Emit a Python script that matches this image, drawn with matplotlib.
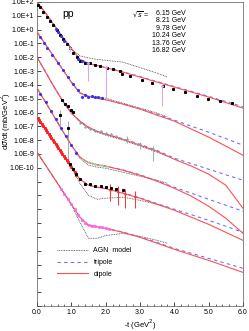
import numpy as np
import matplotlib
matplotlib.use("Agg")
import matplotlib.pyplot as plt
from matplotlib.ticker import FixedLocator, FuncFormatter, MultipleLocator

plt.rcParams['font.family'] = ['Liberation Sans', 'DejaVu Sans']

# ---------------- data (log10 of dsigma/dt, already offset per energy) --------
energies = ["6.15 GeV", "8.21 GeV", "9.78 GeV", "10.24 GeV", "13.76 GeV", "16.82 GeV"]

t_model = [0, 0.25, 0.5, 0.75, 1.0, 1.25, 1.5, 1.75, 2.0, 2.5, 3.0, 3.5, 4.0, 4.5, 5.0, 5.5, 6.0]
t_agn = [0, 0.25, 0.5, 0.75, 1.0, 1.25, 1.5, 1.75, 2.0, 2.5, 3.0, 3.5, 3.8]

dip_A = [2.0, 1.2, 0.33, -0.54, -1.37, -2.15, -2.45, -2.6, -2.75, -3.07, -3.43, -3.8, -4.16, -4.52, -4.88, -5.28, -5.68]
dip_B = [-0.17, -1.08, -1.99, -2.89, -3.80, -4.59, -4.85, -4.96, -5.07, -5.39, -5.75, -6.19, -6.62, -7.2, -7.78, -8.43, -9.09]
dip_C = [-1.99, -3.07, -4.16, -5.17, -6.04, -6.62, -7.06, -7.35, -7.57, -7.93, -8.36, -8.80, -9.38, -9.88, -10.46, -11.26, -12.93]
dip_D = [-4.23, -5.25, -6.30, -7.35, -8.36, -9.23, -9.63, -9.78, -9.88, -10.17, -10.54, -10.97, -11.48, -12.06, -12.78, -13.65, -14.74]
dip_E = [-6.33, -7.24, -8.14, -9.05, -9.96, -10.83, -11.26, -11.41, -11.51, -11.84, -12.2, -12.64, -13.07, -13.58, -14.09, -14.67, -15.25]
dip_F = [-8.87, -9.81, -10.75, -11.70, -12.64, -13.58, -14.16, -14.27, -14.38, -14.67, -15.03, -15.46, -15.9, -16.3, -16.7, -17.13, -17.57]

tri_A = [2.0, 1.2, 0.33, -0.54, -1.37, -2.15, -2.44, -2.58, -2.73, -3.05, -3.4, -3.76, -4.12, -4.47, -4.83, -5.2, -5.58]
tri_B = [-0.17, -1.08, -1.99, -2.89, -3.80, -4.59, -4.85, -4.96, -5.07, -5.37, -5.72, -6.12, -6.55, -6.99, -7.42, -7.89, -8.36]
tri_C = [-1.99, -3.07, -4.16, -5.17, -6.04, -6.62, -7.06, -7.35, -7.55, -7.9, -8.3, -8.75, -9.30, -9.70, -10.1, -10.5, -10.9]
tri_D = [-4.23, -5.25, -6.30, -7.35, -8.36, -9.23, -9.63, -9.78, -9.88, -10.15, -10.5, -10.95, -11.41, -11.84, -12.28, -12.71, -13.14]
tri_E = [-6.33, -7.24, -8.14, -9.05, -9.96, -10.83, -11.26, -11.41, -11.5, -11.82, -12.17, -12.6, -13.0, -13.4, -13.8, -14.23, -14.67]
tri_F = [-8.87, -9.81, -10.75, -11.70, -12.64, -13.58, -14.16, -14.27, -14.37, -14.65, -15.0, -15.4, -15.83, -16.19, -16.55, -16.91, -17.28]

agn_A = [2.0, 1.2, 0.33, -0.54, -1.37, -1.9, -2.05, -2.15, -2.22, -2.35, -2.75, -3.15, -3.43]
agn_B = [-0.17, -1.08, -1.99, -2.89, -3.80, -4.55, -4.8, -4.88, -4.96, -5.32, -5.68, -6.04, -6.33]
agn_C = [-1.99, -3.07, -4.16, -5.17, -6.04, -6.68, -7.13, -7.42, -7.64, -8.0, -8.43, -8.87, -9.16]
agn_D = [-4.23, -5.25, -6.30, -7.35, -8.36, -9.3, -9.81, -9.95, -10.03, -10.32, -10.61, -10.9, -11.12]
agn_E = [-6.33, -7.24, -8.14, -9.05, -9.96, -11.12, -11.99, -12.28, -12.2, -12.13, -12.35, -12.64, -12.86]
agn_F = [-8.87, -9.81, -10.75, -11.70, -12.64, -13.95, -15.1, -15.1, -14.9, -14.75, -14.96, -15.25, -15.46]

# measured points (t, log10 value)
blk_A_t = [0.03, 0.09, 0.17, 0.29, 0.38, 0.47, 0.58, 0.67, 0.76, 0.87, 0.96, 1.05, 1.16, 1.25, 1.40, 1.54, 1.69, 1.83, 2.03, 2.21, 2.41,
           2.47, 2.70, 3.05, 3.34, 3.66, 3.95, 4.30, 4.65, 4.97, 5.32, 5.67]
blk_A_v = [1.78, 1.64, 1.28, 0.91, 0.62, 0.33, -0.03, -0.39, -0.68, -1.04, -1.33, -1.70, -1.99, -2.28, -2.42, -2.42, -2.57, -2.64, -2.78, -2.86, -3.0,
           -3.22, -3.36, -3.65, -3.87, -4.09, -4.30, -4.52, -4.81, -5.03, -5.17, -5.32]
blu_A_t = [0.55, 0.62, 0.7, 0.8, 1.2, 1.3, 1.45]
blu_A_v = [0.05, -0.2, -0.45, -0.8, -2.1, -2.3, -2.45]
pnk_A_t = [0.96, 1.49, 2.01, 3.63]
pnk_A_v = [-1.3, -2.45, -2.68, -4.05]
pnk_A_lo = [-1.55, -3.75, -5.1, -5.55]

blu_B_t = [0.1, 0.2, 0.3, 0.45, 0.6, 0.75, 0.9, 1.05, 1.2, 1.31, 1.4, 1.48, 1.6, 1.69, 1.77, 1.89]
blu_B_v = [-0.55, -0.95, -1.3, -1.8, -2.4, -2.9, -3.45, -3.95, -4.4, -4.88, -4.74, -4.88, -4.81, -4.88, -4.88, -4.95]

blk_C_t = [0.73, 0.81, 0.90, 0.99, 1.05]
blk_C_v = [-5.1, -5.35, -5.55, -5.85, -5.95]
gry_C_t = [0.67, 0.9]
gry_C_v = [-6.2, -7.1]
gry_C_lo = [-7.1, -9.6]
gry_C_hi = [-5.8, -6.6]
cyn_C_t = [1.25, 1.4, 1.55, 1.7, 1.85, 2.0, 2.15, 2.3, 2.62, 3.0, 3.38]
cyn_C_v = [-6.75, -7.05, -7.2, -7.3, -7.35, -7.45, -7.55, -7.7, -7.95, -8.3, -8.65]
cyn_C_lo = [-6.75, -7.05, -7.2, -7.3, -7.35, -7.45, -7.55, -7.7, -8.2, -8.65, -9.5]
cyn_C_hi = [-6.75, -7.05, -7.2, -7.3, -7.35, -7.45, -7.55, -7.7, -7.7, -8.1, -8.4]

blu_D_t = [0.1, 0.25, 0.4, 0.55, 0.7, 0.85, 1.0, 1.15]
blu_D_v = [-4.65, -5.25, -5.9, -6.5, -7.1, -7.7, -8.36, -8.95]
grn_D_t = [1.3, 1.4, 1.5, 1.6, 1.7, 1.8, 1.9, 2.0]
grn_D_v = [-9.35, -9.5, -9.6, -9.65, -9.72, -9.78, -9.82, -9.88]

red_E_t = [0.02, 0.06, 0.1, 0.14, 0.18, 0.22, 0.26, 0.3, 0.34, 0.38, 0.42, 0.46, 0.5, 0.54, 0.58, 0.62, 0.66, 0.7, 0.74,
           0.78, 0.82, 0.86, 0.9, 0.95, 1.0, 1.05, 1.1, 1.15]
red_E_v = [-6.4, -6.55, -6.7, -6.85, -6.98, -7.12, -7.27, -7.41, -7.56, -7.7, -7.85, -7.99, -8.14, -8.28, -8.43, -8.57, -8.7, -8.86, -9.0,
           -9.15, -9.28, -9.42, -9.58, -9.78, -9.96, -10.12, -10.3, -10.5]
blk_E_t = [0.95, 1.05, 1.15, 1.25, 1.4, 1.55, 1.7, 1.85, 2.0, 2.15, 2.3, 2.5]
blk_E_v = [-9.75, -10.1, -10.45, -10.8, -11.15, -11.2, -11.3, -11.35, -11.4, -11.45, -11.5, -11.6]
rer_E_t = [2.13, 2.35, 2.56, 2.85]
rer_E_v = [-11.6, -11.75, -11.9, -12.1]
rer_E_lo = [-12.4, -12.7, -12.9, -12.9]
rer_E_hi = [-11.2, -11.3, -11.5, -11.7]

mag_F_t = [0.7, 0.8, 0.9, 1.0, 1.1, 1.2, 1.3, 1.4, 1.5, 1.6, 1.7, 1.8, 1.9, 2.0, 2.1]
mag_F_v = [-11.5, -11.9, -12.25, -12.64, -13.0, -13.4, -13.75, -14.0, -14.15, -14.2, -14.2, -14.25, -14.3, -14.35, -14.4]

# ---------------- figure --------------------------------------------------------
fig = plt.figure(figsize=(2.49, 3.31), dpi=100)
ax = fig.add_axes([37 / 249, 1 - 306 / 331, (243 - 37) / 249, (306 - 2) / 331])

RED = '#ff5050'
BLUE = '#7070ff'
P = lambda v: 10.0 ** np.asarray(v, dtype=float)

dips = [dip_A, dip_B, dip_C, dip_D, dip_E, dip_F]
tris = [tri_A, tri_B, tri_C, tri_D, tri_E, tri_F]
agns = [agn_A, agn_B, agn_C, agn_D, agn_E, agn_F]

for i in range(6):
    ax.plot(t_agn, P(agns[i]), ls=(0, (1, 1)), color='#444444', lw=0.6, zorder=2,
            label='AGN  model' if i == 0 else None)
    ax.plot(t_model, P(tris[i]), ls=(0, (3, 3)), color=BLUE, lw=0.8, zorder=3,
            label='tripole' if i == 0 else None)
    ax.plot(t_model, P(dips[i]), ls='-', color=RED, lw=0.8, zorder=4,
            label='dipole' if i == 0 else None)

def errs(v, lo, hi):
    v = P(v)
    return [v - P(lo), P(hi) - v]

MS = 1.2
ax.plot(blk_A_t, P(blk_A_v), 's', ms=MS, color='black', zorder=5)
ax.plot(blu_A_t, P(blu_A_v), 'o', ms=MS, color='#3030ff', zorder=5)
ax.errorbar(pnk_A_t, P(pnk_A_v), yerr=errs(pnk_A_v, pnk_A_lo, pnk_A_v), fmt='o', ms=1.0,
            color='#e0a0e0', elinewidth=0.7, capsize=0, zorder=5)
ax.plot(blu_B_t, P(blu_B_v), 'o', ms=MS, color='#3030ff', zorder=5)
ax.plot(blk_C_t, P(blk_C_v), 's', ms=MS, color='black', zorder=5)
ax.errorbar(gry_C_t, P(gry_C_v), yerr=errs(gry_C_v, gry_C_lo, gry_C_hi), fmt='s', ms=MS,
            color='black', ecolor='#999999', elinewidth=0.6, capsize=0, zorder=5)
ax.errorbar(cyn_C_t, P(cyn_C_v), yerr=errs(cyn_C_v, cyn_C_lo, cyn_C_hi), fmt='+', ms=2,
            color='#70b0b0', elinewidth=0.6, capsize=0, zorder=5)
ax.plot(blu_D_t, P(blu_D_v), 'o', ms=MS, color='#3030ff', zorder=5)
ax.plot(grn_D_t, P(grn_D_v), '+', ms=2, color='#a0d0a0', zorder=5)
ax.plot(red_E_t, P(red_E_v), 's', ms=MS, color='#ff2020', zorder=5)
ax.plot(blk_E_t, P(blk_E_v), 's', ms=MS, color='black', zorder=6)
ax.errorbar(rer_E_t, P(rer_E_v), yerr=errs(rer_E_v, rer_E_lo, rer_E_hi), fmt='+', ms=2,
            color='#ff3030', elinewidth=0.7, capsize=0, zorder=5)
ax.plot(mag_F_t, P(mag_F_v), 's', ms=MS, color='#ff60ff', alpha=0.8, zorder=5)

ax.set_yscale('log')
ax.set_xlim(0, 6)
ax.set_ylim(1e-20, 1e2)
ax.xaxis.set_major_locator(MultipleLocator(1.0))
ax.xaxis.set_minor_locator(MultipleLocator(0.2))
ax.xaxis.set_major_formatter(FuncFormatter(lambda x, p: f"{x:.1f}"))
ax.yaxis.set_major_locator(FixedLocator([10.0 ** k for k in range(-20, 3)]))
ax.yaxis.set_major_formatter(FuncFormatter(
    lambda y, p: ("1.0E%+d" % int(round(np.log10(y)))) if np.log10(y) >= -10.5 else ""))
ax.tick_params(which='both', direction='in', labelsize=5, top=False, right=False, pad=2)
ax.tick_params(which='major', length=3, width=0.5)
ax.tick_params(which='minor', length=1.5, width=0.4)
for s in ax.spines.values():
    s.set_linewidth(0.5)
    s.set_color('#555555')

ax.set_xlabel('-t (GeV$^2$)', fontsize=5.5, labelpad=1)
ax.set_ylabel(r'd$\sigma$/dt (mb/GeV$^2$)', fontsize=5.5)
ax.yaxis.set_label_coords(-0.115, 0.61)

ax.text(0.125, 0.96, 'pp', transform=ax.transAxes, fontsize=7.5, va='center')
ax.text(0.46, 0.96, r'$\sqrt{s}$ =', transform=ax.transAxes, fontsize=5, va='center')
for j, e in enumerate(energies):
    ax.text(0.72, 0.962 - j * 0.0245, e, transform=ax.transAxes, fontsize=5, va='center', ha='right')

ax.legend(loc='upper left', bbox_to_anchor=(0.065, 0.213), frameon=False, fontsize=5,
          handlelength=4.5, handletextpad=0.8, labelspacing=0.65)

fig.savefig('out.png', dpi=100)
